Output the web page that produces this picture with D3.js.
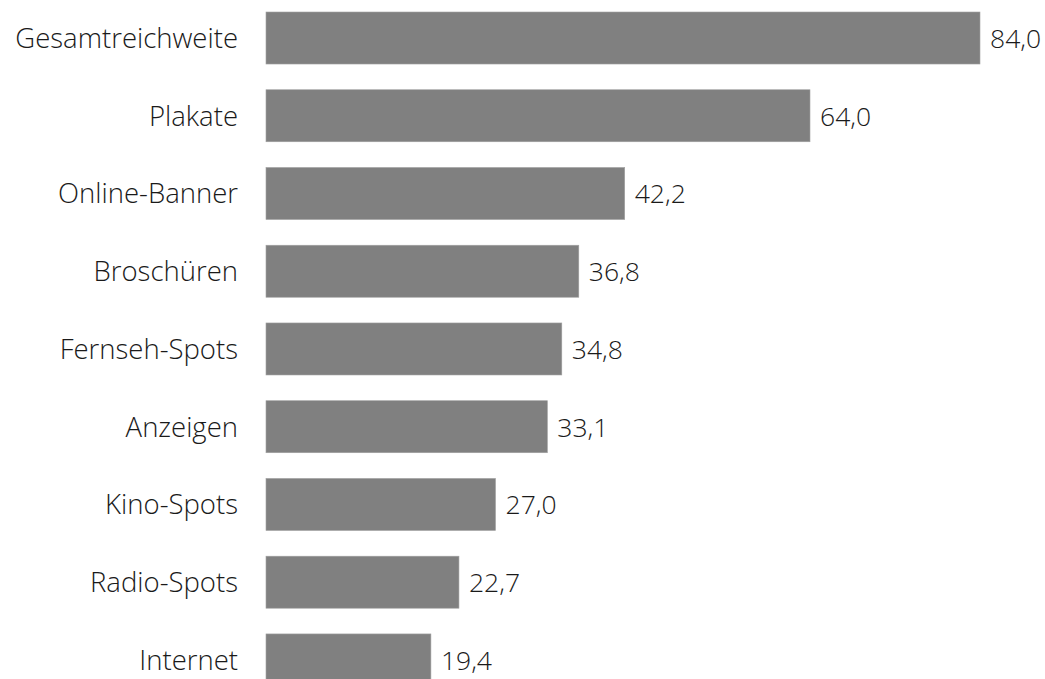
<!DOCTYPE html>
<html><head><meta charset="utf-8">
<script src="https://cdn.jsdelivr.net/npm/d3@7"></script>
<style>
html,body{margin:0;padding:0;background:#fff;overflow:hidden;}
text{font-family:"Open Sans","Noto Sans",sans-serif;font-weight:300;fill:#1a1a1a;}
</style></head>
<body><svg id="c" width="1045" height="679"></svg>
<script>
const categories = ["Gesamtreichweite","Plakate","Online-Banner","Broschüren","Fernseh-Spots","Anzeigen","Kino-Spots","Radio-Spots","Internet"];
const values = [84.0,64.0,42.2,36.8,34.8,33.1,27.0,22.7,19.4];
const valueLabels = ["84,0","64,0","42,2","36,8","34,8","33,1","27,0","22,7","19,4"];

const svg = d3.select("#c");
const x0 = 266;
const x = d3.scaleLinear().domain([0,84]).range([x0,980]);
const y = d3.scaleBand().domain(categories).range([12 - 12.9, 12 - 12.9 + 77.75*9]).paddingInner(0.331).paddingOuter(0.166);

svg.selectAll("rect.bar").data(categories).join("rect")
  .attr("class","bar")
  .attr("x", x(0))
  .attr("y", d => y(d))
  .attr("width", (d,i) => x(values[i]) - x(0))
  .attr("height", y.bandwidth())
  .attr("fill","#808080")
  .attr("stroke","#a0a0a0").attr("stroke-width",0.6);

svg.selectAll("text.cat").data(categories).join("text")
  .attr("class","cat")
  .attr("x", 238)
  .attr("y", d => y(d) + y.bandwidth()/2)
  .attr("dy","0.36em")
  .attr("text-anchor","end")
  .attr("font-size", 27.5)
  .text(d => d);

svg.selectAll("text.val").data(categories).join("text")
  .attr("class","val")
  .attr("x", (d,i) => x(values[i]) + 10)
  .attr("y", d => y(d) + y.bandwidth()/2)
  .attr("dy","0.37em")
  .attr("font-size", 26.5)
  .text((d,i) => valueLabels[i]);
</script></body></html>
